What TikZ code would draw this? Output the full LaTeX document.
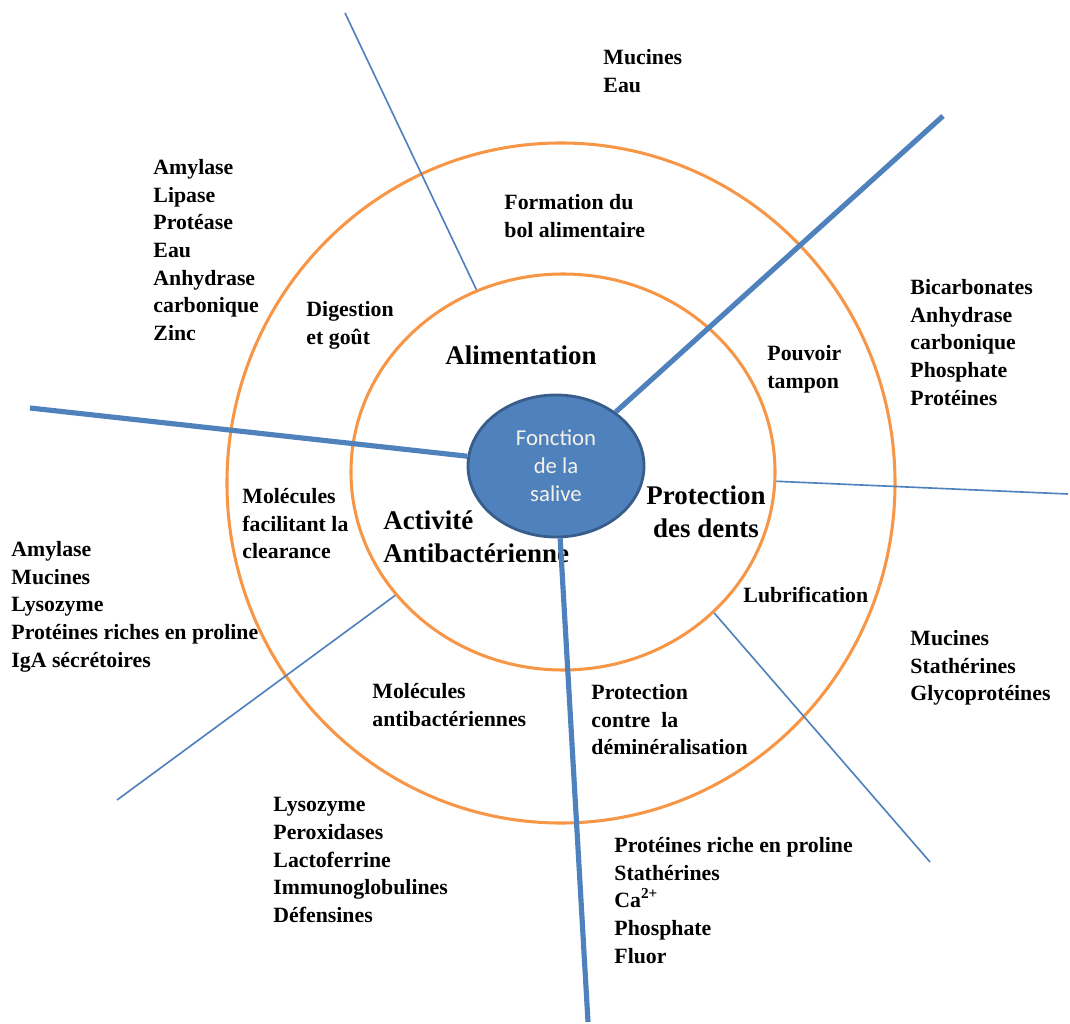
\documentclass[tikz,border=0pt]{standalone}
\usepackage{fontspec}
\setmainfont{Liberation Serif}
\newfontfamily\calibfont{Carlito}
\usetikzlibrary{shapes.geometric}
\definecolor{ringorange}{HTML}{F79646}
\definecolor{lineblue}{HTML}{4F81BD}
\definecolor{coreblue}{HTML}{4F81BD}
\definecolor{coreedge}{HTML}{385D8A}
\definecolor{coretext}{HTML}{F4F1E8}

\begin{document}
\begin{tikzpicture}[x=0.015cm, y=-0.015cm,
  ring/.style={ellipse, draw=ringorange, line width=1.3pt, inner sep=0pt},
  item/.style={anchor=north west, inner sep=0pt, align=left,
    font=\fontsize{9.3}{11.8}\selectfont\bfseries},
  head/.style={inner sep=0pt, font=\fontsize{11.5}{14.3}\selectfont\bfseries},
  spoke/.style={lineblue, line width=2.2pt},
  twig/.style={lineblue, line width=0.7pt}]

\useasboundingbox (0,0) rectangle (1070,1024);

% Rings
\node[ring, minimum width=10.02cm, minimum height=10.2cm] (outer) at (561,483) {};
\node[ring, minimum width=6.36cm, minimum height=5.94cm] (inner) at (563,472) {};

% =========== Alimentation ===========
\node[item] (eau) at (603,49) {Mucines\\Eau};
\node[item] (enzymes) at (153,159)
  {Amylase\\Lipase\\Protéase\\Eau\\Anhydrase\\carbonique\\Zinc};
\node[item] (bol) at (504,194) {Formation du\\bol alimentaire};
\node[item] (gout) at (306,301) {Digestion\\et goût};
\node[head, anchor=north west] (alim) at (445,345) {Alimentation};

% =========== Protection des dents ===========
\node[item] (tampon) at (767,345) {Pouvoir\\tampon};
\node[item] (bicarb) at (910,279)
  {Bicarbonates\\Anhydrase\\carbonique\\Phosphate\\Protéines};
\node[head, anchor=north, align=center] (dents) at (706,485) {Protection\\des dents};
\node[item] (lubri) at (743,587) {Lubrification};
\node[item] (stath) at (910,630) {Mucines\\Stathérines\\Glycoprotéines};
\node[item] (demin) at (591,684) {Protection\\contre\ \ la\\déminéralisation};
\node[item] (fluor) at (614,837)
  {Protéines riche en proline\\Stathérines\\Ca\textsuperscript{2+}\\Phosphate\\Fluor};

% =========== Activite antibacterienne ===========
\node[item] (clear) at (242,488) {Molécules\\facilitant la\\clearance};
\node[item] (iga) at (11,541)
  {Amylase\\Mucines\\Lysozyme\\Protéines riches en proline\\IgA sécrétoires};
\node[head, anchor=north west, align=left] (antibac) at (383,510) {Activité\\Antibactérienne};
\node[item] (molec) at (372,683) {Molécules\\antibactériennes};
\node[item] (defens) at (273,797)
  {Lysozyme\\Peroxidases\\Lactoferrine\\Immunoglobulines\\Défensines};

% Centre
\node[ellipse, fill=coreblue, draw=coreedge, line width=1.2pt, inner sep=0pt,
      minimum width=2.64cm, minimum height=2.13cm, align=center,
      text=coretext, font=\calibfont\fontsize{9.7}{11.9}\selectfont]
  (fonction) at (556,466) {Fonction\\de la\\salive};

% Spokes
\coordinate (nw) at (345,13);
\coordinate (ne) at (943,116);
\coordinate (w) at (30,408);
\coordinate (e) at (1068,494);
\coordinate (s) at (588,1022);
\coordinate (se) at (930,862);
\coordinate (sw) at (117,800);

\draw[spoke] (ne) -- (fonction);
\draw[spoke] (w) -- (fonction);
\draw[spoke] (s) -- (fonction);
\draw[twig] (nw) -- (inner);
\draw[twig] (e) -- (inner);
\draw[twig] (se) -- (inner.-43);
\draw[twig] (sw) -- (inner);

\end{tikzpicture}
\end{document}
